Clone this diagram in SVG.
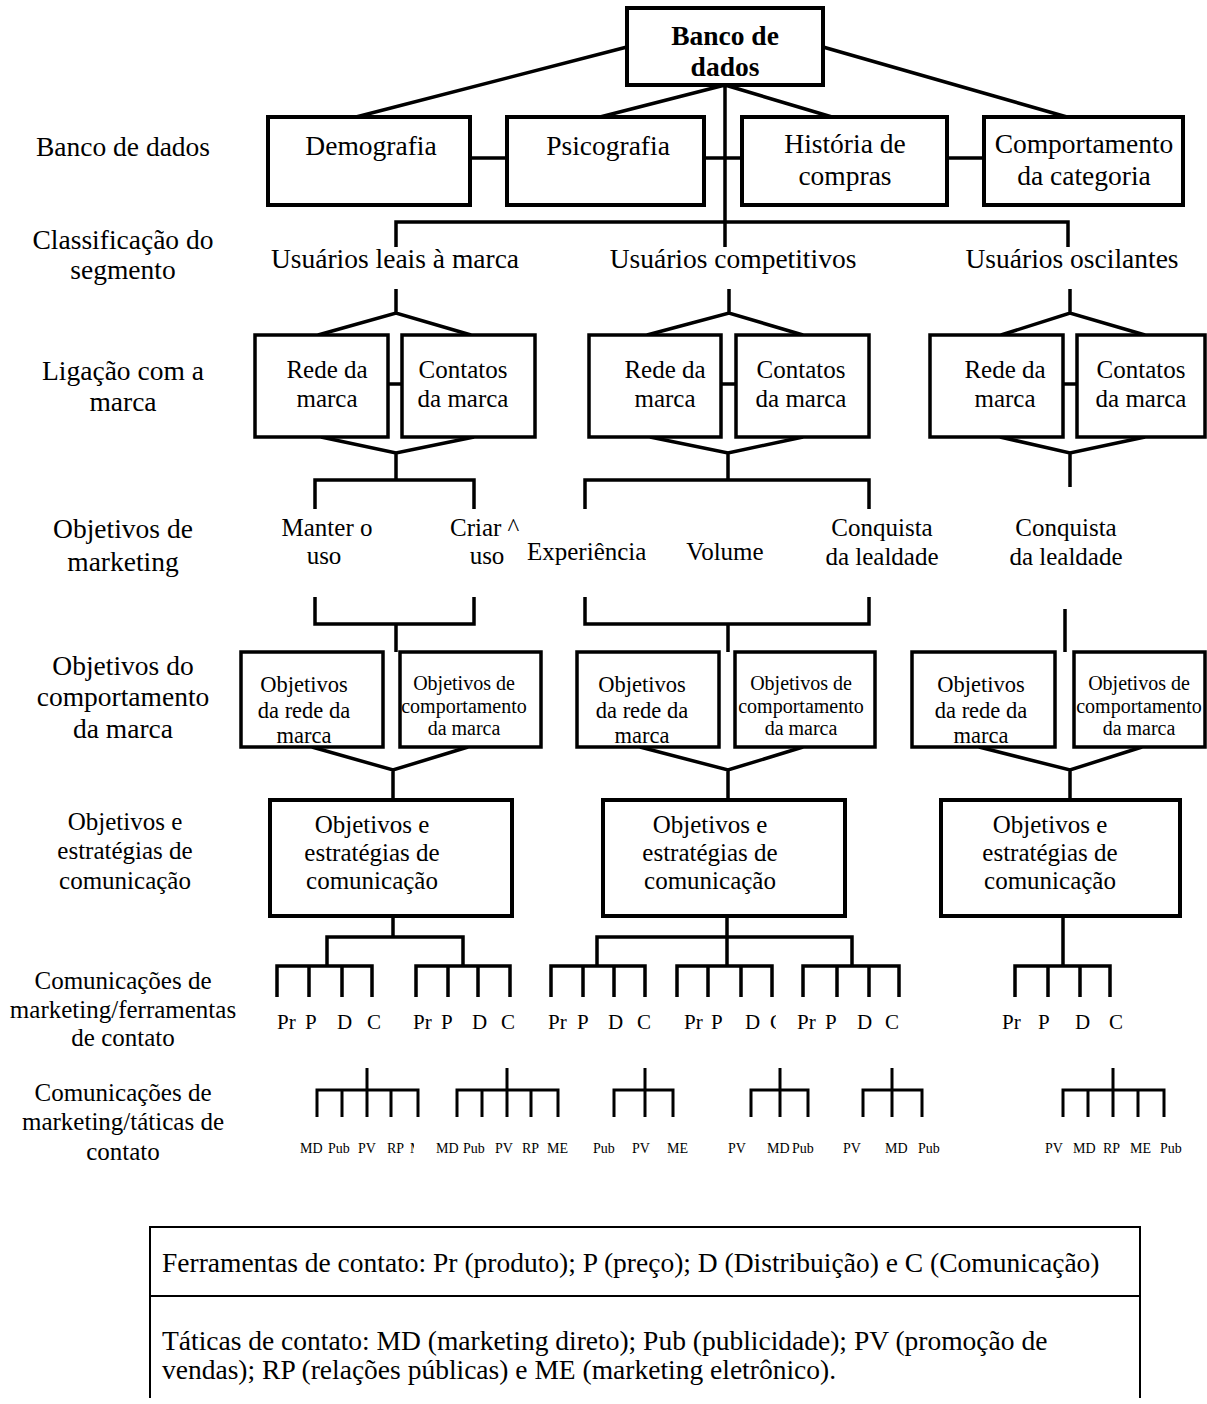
<svg xmlns="http://www.w3.org/2000/svg" width="1207" height="1404" viewBox="0 0 1207 1404">
<style>
text{font-family:"Liberation Serif","Times New Roman",serif;fill:#000}
.m{text-anchor:middle}
.f275{font-size:27.5px}
.f25{font-size:25px}
.f225{font-size:22.5px}
.f20{font-size:20px}
.f21{font-size:21px}
.f14{font-size:14px}
.b{font-weight:bold}
.box{fill:#fff;stroke:#000;stroke-width:4}
.bx3{fill:#fff;stroke:#000;stroke-width:3.5}
#connectors path{fill:none;stroke:#000;stroke-width:3.5}
#connectors .thin{stroke-width:3}
.leg{fill:none;stroke:#000;stroke-width:2}
.lt{font-size:27.5px}
</style>
<defs>
<clipPath id="clipExp"><rect x="0" y="500" width="646" height="100"/></clipPath>
<clipPath id="clipC"><rect x="760" y="1000" width="16" height="40"/></clipPath>
<clipPath id="clipME"><rect x="400" y="1130" width="14" height="40"/></clipPath>
</defs>
<rect width="1207" height="1404" fill="#fff"/>

<g id="connectors">
<path d="M627,47 L356,117 M823,47 L1067,117 M725,85 L600,117 M725,85 L832,117 M725,85 V247 M396,247 V222 H1068 V247"/>
<path d="M470,158 H507 M704,158 H742 M947,158 H984"/>
<path d="M396,289 V313 M318,335 L396,313 L471,335 M729,289 V313 M647,335 L729,313 L803,335 M1070,289 V313 M1001,335 L1070,313 L1145,335"/>
<path d="M388,384 H402 M721,384 H736 M1063,384 H1077"/>
<path d="M321,437 L396,453 L474,437 M396,453 V480 M315,509 V480 H474 V509"/>
<path d="M650,437 L728,453 L803,437 M728,453 V480 M585,509 V480 H869 V509"/>
<path d="M1000,437 L1070,453 L1145,437 M1070,453 V487"/>
<path d="M315,597 V624 H474 V597 M396,624 V652 M585,597 V624 H869 V597 M728,624 V652 M1065,609 V652"/>
<path d="M312,747 L393,770 L468,747 M393,770 V800 M640,747 L728,770 L803,747 M728,770 V800 M979,747 L1070,770 L1142,747 M1070,770 V800"/>
<path d="M393,916 V937 M327,966 V937 H463 V966 M277,997 V966 H372 V997 M309,966 V997 M342,966 V997 M416,997 V966 H510 V997 M448,966 V997 M478,966 V997"/>
<path d="M727,916 V966 M597,966 V937 H852 V966 M551,997 V966 H645 V997 M583,966 V997 M614,966 V997 M677,997 V966 H772 V997 M708,966 V997 M741,966 V997 M803,997 V966 H899 V997 M837,966 V997 M869,966 V997"/>
<path d="M1063,916 V966 M1015,997 V966 H1110 V997 M1048,966 V997 M1080,966 V997"/>
<path class="thin" d="M317,1117 V1090 H418 V1117 M342,1090 V1117 M367,1068 V1117 M391,1090 V1117"/>
<path class="thin" d="M457,1117 V1090 H558 V1117 M482,1090 V1117 M507,1068 V1117 M531,1090 V1117"/>
<path class="thin" d="M614,1117 V1090 H673 V1117 M645,1068 V1117"/>
<path class="thin" d="M751,1117 V1090 H808 V1117 M780,1068 V1117"/>
<path class="thin" d="M863,1117 V1090 H922 V1117 M892,1068 V1117"/>
<path class="thin" d="M1063,1117 V1090 H1164 V1117 M1088,1090 V1117 M1113,1068 V1117 M1138,1090 V1117"/>
</g>

<g id="row-labels" class="f275">
<text class="m" x="123" y="156">Banco de dados</text>
<text class="m" x="123" y="249">Classificação do</text>
<text class="m" x="123" y="279">segmento</text>
<text class="m" x="123" y="380">Ligação com a</text>
<text class="m" x="123" y="411">marca</text>
<text class="m" x="123" y="538">Objetivos de</text>
<text class="m" x="123" y="571">marketing</text>
<text class="m" x="123" y="675">Objetivos do</text>
<text class="m" x="123" y="706">comportamento</text>
<text class="m" x="123" y="738">da marca</text>
</g>
<g id="row-labels-2" class="f25">
<text class="m" x="125" y="830">Objetivos e</text>
<text class="m" x="125" y="859">estratégias de</text>
<text class="m" x="125" y="889">comunicação</text>
<text class="m" x="123" y="989">Comunicações de</text>
<text class="m" x="123" y="1018">marketing/ferramentas</text>
<text class="m" x="123" y="1046">de contato</text>
<text class="m" x="123" y="1101">Comunicações de</text>
<text class="m" x="123" y="1130">marketing/táticas de</text>
<text class="m" x="123" y="1160">contato</text>
</g>

<g id="banco">
<rect class="box" x="627" y="8" width="196" height="77"/>
<text class="m f275 b" x="725" y="45">Banco de</text>
<text class="m f275 b" x="725" y="76">dados</text>
</g>
<g id="demografia">
<rect class="box" x="268" y="117" width="202" height="88"/>
<text class="m f275" x="371" y="155">Demografia</text>
</g>
<g id="psicografia">
<rect class="box" x="507" y="117" width="197" height="88"/>
<text class="m f275" x="608" y="155">Psicografia</text>
</g>
<g id="historia">
<rect class="box" x="742" y="117" width="205" height="88"/>
<text class="m f275" x="845" y="153">História de</text>
<text class="m f275" x="845" y="185">compras</text>
</g>
<g id="comportamento-categoria">
<rect class="box" x="984" y="117" width="199" height="88"/>
<text class="m f275" x="1084" y="153">Comportamento</text>
<text class="m f275" x="1084" y="185">da categoria</text>
</g>

<g id="seg-leais"><text class="m f275" x="395" y="268">Usuários leais à marca</text></g>
<g id="seg-competitivos"><text class="m f275" x="733" y="268">Usuários competitivos</text></g>
<g id="seg-oscilantes"><text class="m f275" x="1072" y="268">Usuários oscilantes</text></g>

<g id="rede-1"><rect class="bx3" x="255" y="335" width="133" height="102"/><text class="m f25" x="327" y="378">Rede da</text><text class="m f25" x="327" y="407">marca</text></g>
<g id="contatos-1"><rect class="bx3" x="402" y="335" width="133" height="102"/><text class="m f25" x="463" y="378">Contatos</text><text class="m f25" x="463" y="407">da marca</text></g>
<g id="rede-2"><rect class="bx3" x="589" y="335" width="132" height="102"/><text class="m f25" x="665" y="378">Rede da</text><text class="m f25" x="665" y="407">marca</text></g>
<g id="contatos-2"><rect class="bx3" x="736" y="335" width="133" height="102"/><text class="m f25" x="801" y="378">Contatos</text><text class="m f25" x="801" y="407">da marca</text></g>
<g id="rede-3"><rect class="bx3" x="930" y="335" width="133" height="102"/><text class="m f25" x="1005" y="378">Rede da</text><text class="m f25" x="1005" y="407">marca</text></g>
<g id="contatos-3"><rect class="bx3" x="1077" y="335" width="128" height="102"/><text class="m f25" x="1141" y="378">Contatos</text><text class="m f25" x="1141" y="407">da marca</text></g>

<g id="obj-manter"><text class="m f25" x="327" y="536">Manter o</text><text class="m f25" x="324" y="564">uso</text></g>
<g id="obj-criar"><text class="f25" x="450" y="536">Criar ^</text><text class="m f25" x="487" y="564">uso</text></g>
<g id="obj-experiencia"><text class="f25" x="527" y="560" clip-path="url(#clipExp)">Experiência</text></g>
<g id="obj-volume"><text class="m f25" x="725" y="560">Volume</text></g>
<g id="obj-conquista-1"><text class="m f25" x="882" y="536">Conquista</text><text class="m f25" x="882" y="565">da lealdade</text></g>
<g id="obj-conquista-2"><text class="m f25" x="1066" y="536">Conquista</text><text class="m f25" x="1066" y="565">da lealdade</text></g>

<g id="obj-rede-1"><rect class="bx3" x="241" y="652" width="142" height="95"/><text class="m f225" x="304" y="692">Objetivos</text><text class="m f225" x="304" y="718">da rede da</text><text class="m f225" x="304" y="743">marca</text></g>
<g id="obj-comp-1"><rect class="bx3" x="400" y="652" width="141" height="95"/><text class="m f20" x="464" y="690">Objetivos de</text><text class="m f20" x="464" y="713">comportamento</text><text class="m f20" x="464" y="735">da marca</text></g>
<g id="obj-rede-2"><rect class="bx3" x="577" y="652" width="142" height="95"/><text class="m f225" x="642" y="692">Objetivos</text><text class="m f225" x="642" y="718">da rede da</text><text class="m f225" x="642" y="743">marca</text></g>
<g id="obj-comp-2"><rect class="bx3" x="735" y="652" width="140" height="95"/><text class="m f20" x="801" y="690">Objetivos de</text><text class="m f20" x="801" y="713">comportamento</text><text class="m f20" x="801" y="735">da marca</text></g>
<g id="obj-rede-3"><rect class="bx3" x="912" y="652" width="143" height="95"/><text class="m f225" x="981" y="692">Objetivos</text><text class="m f225" x="981" y="718">da rede da</text><text class="m f225" x="981" y="743">marca</text></g>
<g id="obj-comp-3"><rect class="bx3" x="1074" y="652" width="131" height="95"/><text class="m f20" x="1139" y="690">Objetivos de</text><text class="m f20" x="1139" y="713">comportamento</text><text class="m f20" x="1139" y="735">da marca</text></g>

<g id="com-1"><rect class="box" x="270" y="800" width="242" height="116"/><text class="m f25" x="372" y="833">Objetivos e</text><text class="m f25" x="372" y="861">estratégias de</text><text class="m f25" x="372" y="889">comunicação</text></g>
<g id="com-2"><rect class="box" x="603" y="800" width="242" height="116"/><text class="m f25" x="710" y="833">Objetivos e</text><text class="m f25" x="710" y="861">estratégias de</text><text class="m f25" x="710" y="889">comunicação</text></g>
<g id="com-3"><rect class="box" x="941" y="800" width="239" height="116"/><text class="m f25" x="1050" y="833">Objetivos e</text><text class="m f25" x="1050" y="861">estratégias de</text><text class="m f25" x="1050" y="889">comunicação</text></g>

<g id="tools" class="f21">
<text x="277" y="1029">Pr</text><text x="305" y="1029">P</text><text x="337" y="1029">D</text><text x="367" y="1029">C</text>
<text x="413" y="1029">Pr</text><text x="441" y="1029">P</text><text x="472" y="1029">D</text><text x="501" y="1029">C</text>
<text x="548" y="1029">Pr</text><text x="577" y="1029">P</text><text x="608" y="1029">D</text><text x="637" y="1029">C</text>
<text x="684" y="1029">Pr</text><text x="711" y="1029">P</text><text x="745" y="1029">D</text><text x="770" y="1029" clip-path="url(#clipC)">C</text>
<text x="797" y="1029">Pr</text><text x="825" y="1029">P</text><text x="857" y="1029">D</text><text x="885" y="1029">C</text>
<text x="1002" y="1029">Pr</text><text x="1038" y="1029">P</text><text x="1075" y="1029">D</text><text x="1109" y="1029">C</text>
</g>

<g id="tactics" class="f14">
<text x="300" y="1153">MD</text><text x="328" y="1153">Pub</text><text x="358" y="1153">PV</text><text x="387" y="1153">RP</text><text x="410" y="1153" clip-path="url(#clipME)">ME</text>
<text x="436" y="1153">MD</text><text x="463" y="1153">Pub</text><text x="495" y="1153">PV</text><text x="522" y="1153">RP</text><text x="547" y="1153">ME</text>
<text x="593" y="1153">Pub</text><text x="632" y="1153">PV</text><text x="667" y="1153">ME</text>
<text x="728" y="1153">PV</text><text x="767" y="1153">MD</text><text x="792" y="1153">Pub</text>
<text x="843" y="1153">PV</text><text x="885" y="1153">MD</text><text x="918" y="1153">Pub</text>
<text x="1045" y="1153">PV</text><text x="1073" y="1153">MD</text><text x="1103" y="1153">RP</text><text x="1130" y="1153">ME</text><text x="1160" y="1153">Pub</text>
</g>

<g id="legend">
<path class="leg" d="M150,1398 V1227 H1140 V1398 M150,1296 H1140"/>
<text class="lt" x="162" y="1272">Ferramentas de contato: Pr (produto); P (preço); D (Distribuição) e C (Comunicação)</text>
<text class="lt" x="162" y="1350">Táticas de contato: MD (marketing direto); Pub (publicidade); PV (promoção de</text>
<text class="lt" x="162" y="1379">vendas); RP (relações públicas)  e ME (marketing eletrônico).</text>
</g>
</svg>
